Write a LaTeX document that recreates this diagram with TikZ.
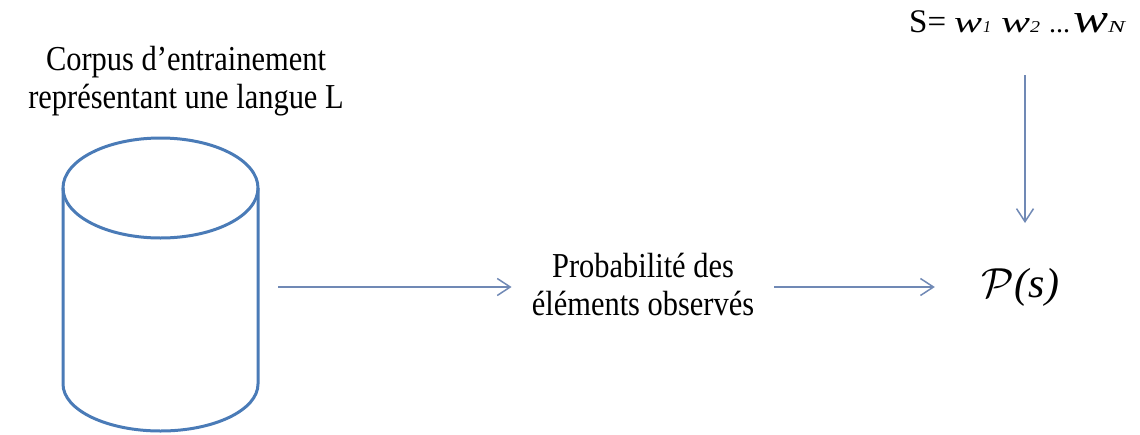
\RequirePackage{fix-cm}
\documentclass[tikz,border=0pt]{standalone}
\usepackage{fontspec}
\usepackage{graphicx}
\setmainfont{Liberation Serif}[FakeStretch=0.87]
\newfontfamily\plainfont{Liberation Serif}
\usetikzlibrary{arrows.meta}

\definecolor{cylblue}{HTML}{4A7BB7}
\definecolor{arrowblue}{HTML}{7089B5}

% italic letter scaled to a given width and height
\newcommand{\sizedit}[3]{\resizebox{#1}{#2}{\plainfont\itshape #3}}

\tikzset{
  label text/.style={font=\fontsize{35}{38}\selectfont, align=center, inner sep=0pt},
  flow/.style={draw=arrowblue, line width=1.5pt,
    -{Straight Barb[length=13pt, width=17pt, line width=1.5pt]}},
  cylline/.style={draw=cylblue, line width=3pt}
}

\begin{document}
\begin{tikzpicture}[x=1pt, y=-1pt]
  \useasboundingbox (0,0) rectangle (1140,434);

  % training corpus: a cylinder
  \node[minimum width=195pt, minimum height=293pt, inner sep=0pt] (cyl) at (160.5,286) {};
  \draw[cylline] (63,188) -- (63,384) arc[start angle=180, end angle=360, x radius=97.5, y radius=-47] -- (258,188);
  \draw[cylline] (160.5,188) ellipse[x radius=97.5, y radius=50];

  \node[label text] (corpus) at (186,81) {Corpus d’entrainement\\représentant une langue L};

  % estimated probabilities
  \node[label text, inner xsep=20pt] (prob) at (643,284) {Probabilité des\\éléments observés};

  % sentence and its probability
  \node[font=\plainfont\fontsize{33}{38}\selectfont, anchor=base west, inner sep=0pt] (seq) at (909,32)
    {S=\hspace{8pt}\sizedit{28pt}{14pt}{w}\hspace{1pt}\sizedit{8pt}{11pt}{1}%
     \hspace{10pt}\sizedit{29pt}{14pt}{w}\sizedit{10pt}{11pt}{2}%
     \hspace{9pt}{\fontsize{28}{28}\selectfont...}\hspace{3pt}%
     \sizedit{35pt}{19pt}{w}\sizedit{17pt}{11pt}{N}};

  \node[font=\fontsize{42}{42}\selectfont, inner sep=0pt] (ps) at (1020,287)
    {$\mathcal{P}$\kern1pt{\plainfont\itshape(s)}};

  % connectors
  \draw[flow] ([xshift=20pt]cyl.east |- 0,287) -- (prob.west |- 0,287);
  \draw[flow] (prob.east |- 0,287) -- ([xshift=-46pt]ps.west |- 0,287);
  \coordinate (top) at (1025,75);
  \draw[flow] (top) -- (top |- 0,223);
\end{tikzpicture}
\end{document}
